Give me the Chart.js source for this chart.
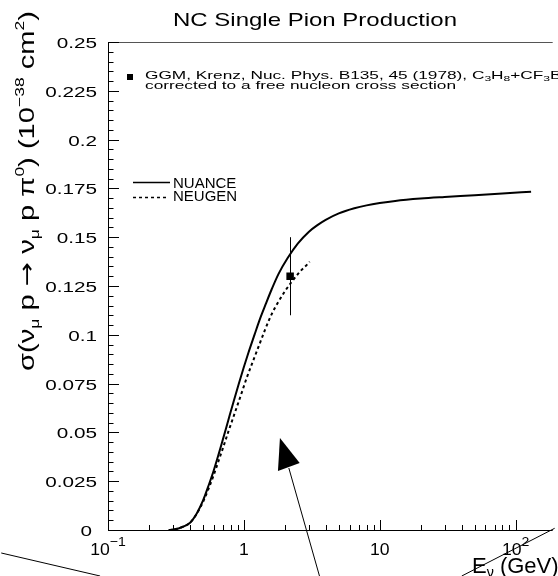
<!DOCTYPE html>
<html><head><meta charset="utf-8">
<script src="https://cdn.jsdelivr.net/npm/chart.js@4.4.1/dist/chart.umd.min.js"></script>
<style>html,body{margin:0;padding:0;background:#fff;overflow:hidden}#wrap{width:558px;height:576px;position:relative;background:#fff}</style>
</head><body><div id="wrap"><canvas id="c" width="558" height="576"></canvas></div>
<script>
// ---- data ----
const nuanceE = [0.28,0.30,0.33,0.36,0.40,0.45,0.50,0.55,0.60,0.65,0.70,0.77,0.85,0.92,1.0,1.08,1.2,1.3,1.45,1.6,1.8,2.1,2.5,3.0,3.5,4.0,5.0,6.5,8,10,13,20,30,50,80,130];
const nuanceSigma = [0,0.0002,0.0008,0.0018,0.0036,0.0085,0.0150,0.0228,0.0305,0.0385,0.0463,0.0565,0.0670,0.0752,0.0835,0.0908,0.1002,0.1073,0.1158,0.1232,0.1312,0.1393,0.1468,0.1527,0.1563,0.1589,0.1622,0.1648,0.1663,0.1675,0.1686,0.1698,0.1706,0.1715,0.1724,0.1733];
const neugenE = [0.28,0.30,0.33,0.36,0.40,0.45,0.50,0.55,0.60,0.65,0.70,0.77,0.85,0.95,1.05,1.19,1.30,1.43,1.60,1.78,2.0,2.23,2.6,2.94,3.05];
const neugenSigma = [0,0.0002,0.0008,0.0018,0.0036,0.0083,0.0143,0.0212,0.0282,0.0352,0.0418,0.0505,0.0592,0.0690,0.0780,0.0880,0.0950,0.1025,0.1105,0.1165,0.1222,0.1268,0.1325,0.1362,0.1374];
const ggmE = [2.19];
const ggmSigma = [0.130];
const ggmErr = [0.020];
const yTickValues = [0,0.025,0.05,0.075,0.1,0.125,0.15,0.175,0.2,0.225,0.25];
const yTickLabels = ['0','0.025','0.05','0.075','0.1','0.125','0.15','0.175','0.2','0.225','0.25'];
const xTickValues = [0.1,1,10,100];
const xTickBase = ['10','1','10','10'];
const xTickExp = ['\u22121','','','2'];
// annotation strokes (in data units E, sigma)
const annoLine1 = [[0.01638,-0.01178],[0.08746,-0.02357]];
const annoArrowLine = [[3.601,-0.02357],[2.142,0.03176]];
const annoArrowHead = [[1.843,0.04713],[1.782,0.03023],[2.576,0.03432]];
const annoLine2 = [[40.14,-0.02357],[193.8,0.00087]];

const TXT = '"Liberation Sans", Arial, Helvetica, sans-serif';
function segFont(s,size){ return (size*(s.k||1))+'px '+(s.f||TXT); }
function richWidth(ctx, segs, size){ let w=0; for(const s of segs){ ctx.font = segFont(s,size); w += ctx.measureText(s.t).width; } return w; }
function drawRich(ctx, segs, x, y, o){
  const size=o.size; ctx.save(); ctx.translate(x,y); if(o.rot) ctx.rotate(o.rot);
  const nat = richWidth(ctx, segs, size);
  const sx = o.width ? o.width/nat : (o.stretch||1);
  ctx.scale(sx,1);
  let cx = o.align==='right' ? -nat : (o.align==='center' ? -nat/2 : 0);
  ctx.fillStyle = '#000'; ctx.textBaseline='alphabetic'; ctx.textAlign='left';
  for(const s of segs){ ctx.font=segFont(s,size); ctx.fillText(s.t, cx, (s.dy||0)*size); cx += ctx.measureText(s.t).width; }
  ctx.restore();
}

const decor = {
  id:'decor',
  beforeDatasetsDraw(chart){
    const {ctx, chartArea:a, scales:{x,y}} = chart;
    ctx.save();
    ctx.lineWidth=1; ctx.strokeStyle='#000';
    ctx.beginPath();
    ctx.moveTo(a.left+0.5, a.top); ctx.lineTo(a.left+0.5, a.bottom+0.5); ctx.lineTo(a.right, a.bottom+0.5);
    ctx.stroke();
    ctx.strokeStyle='#555';
    ctx.beginPath(); ctx.moveTo(a.left, a.top+0.5); ctx.lineTo(a.right, a.top+0.5); ctx.stroke();
    ctx.strokeStyle='#000';
    ctx.beginPath();
    for(let i=0;i<=50;i++){
      const v=i*0.005, py=Math.round(y.getPixelForValue(v))+0.5, major=(i%5===0);
      ctx.moveTo(a.left, py); ctx.lineTo(a.left+(major?11:5.5), py);
    }
    for(let d=-1; d<=2; d++) for(let k=1;k<=9;k++){
      const v=k*Math.pow(10,d); if(v>x.max) break;
      const px=Math.round(x.getPixelForValue(v))+0.5;
      ctx.moveTo(px,a.bottom); ctx.lineTo(px,a.bottom-(k===1?10:5));
    }
    ctx.stroke();
    ctx.restore();
  },
  afterDraw(chart){
    const {ctx, chartArea:a, scales:{x,y}} = chart;
    const P = (p)=>[x.getPixelForValue(p[0]), y.getPixelForValue(p[1])];
    ctx.save();
    // error bar
    ctx.strokeStyle='#000'; ctx.lineWidth=1;
    ctx.beginPath();
    for(let i=0;i<ggmE.length;i++){
      const px=Math.round(x.getPixelForValue(ggmE[i]))+0.5;
      ctx.moveTo(px, y.getPixelForValue(ggmSigma[i]+ggmErr[i]));
      ctx.lineTo(px, y.getPixelForValue(ggmSigma[i]-ggmErr[i]));
    }
    ctx.stroke();
    // annotation strokes
    ctx.beginPath();
    for(const L of [annoLine1, annoArrowLine, annoLine2]){ const p0=P(L[0]), p1=P(L[1]); ctx.moveTo(p0[0],p0[1]); ctx.lineTo(p1[0],p1[1]); }
    ctx.stroke();
    ctx.fillStyle='#000';
    ctx.beginPath();
    annoArrowHead.forEach((q,i)=>{ const p=P(q); if(i===0) ctx.moveTo(p[0],p[1]); else ctx.lineTo(p[0],p[1]); });
    ctx.closePath(); ctx.fill();
    // y tick labels
    yTickValues.forEach((v,i)=>{
      const py=y.getPixelForValue(v);
      drawRich(ctx,[{t:yTickLabels[i]}], v===0?92:97, py+6, {size:15, stretch:1.38, align:'right'});
    });
    // x tick labels
    xTickValues.forEach((v,i)=>{
      const px=x.getPixelForValue(v);
      const segs=[{t:xTickBase[i]}]; if(xTickExp[i]) segs.push({t:xTickExp[i], k:0.8, dy:-0.55});
      drawRich(ctx, segs, px, 555, {size:16, stretch:1.1, align:'center'});
    });
    // title
    drawRich(ctx,[{t:'NC Single Pion Production'}], 315, 26, {size:18.5, width:284, align:'center'});
    // y axis title
    const DV='"DejaVu Sans", sans-serif';
    drawRich(ctx,[{t:'\u03c3(\u03bd'},{t:'\u03bc',k:0.6,dy:0.22},{t:' p '},{t:'\u2192',f:DV},{t:' \u03bd'},{t:'\u03bc',k:0.6,dy:0.22},{t:' p \u03c0'},{t:'0',k:0.6,dy:-0.45},{t:') (10'},{t:'\u221238',k:0.6,dy:-0.45},{t:' cm'},{t:'2',k:0.6,dy:-0.45},{t:')'}],
      34, 371, {size:22, width:360, rot:-Math.PI/2});
    // x axis title
    drawRich(ctx,[{t:'E'},{t:'\u03bd',k:0.65,dy:0.2},{t:' (GeV)'}], 472, 573, {size:22, stretch:1.0});
    // legend
    ctx.lineWidth=1.5;
    ctx.beginPath(); ctx.moveTo(133,182.5); ctx.lineTo(170,182.5); ctx.stroke();
    ctx.setLineDash([3,3]);
    ctx.beginPath(); ctx.moveTo(133,197.5); ctx.lineTo(169,197.5); ctx.stroke();
    ctx.setLineDash([]);
    drawRich(ctx,[{t:'NUANCE'}], 173, 188, {size:15, stretch:1.0});
    drawRich(ctx,[{t:'NEUGEN'}], 173, 201, {size:15, stretch:1.0});
    // data note
    ctx.fillRect(127,74,6,6);
    drawRich(ctx,[{t:'GGM, Krenz, Nuc. Phys. B135, 45 (1978), C'},{t:'3',k:0.7,dy:0.2},{t:'H'},{t:'8',k:0.7,dy:0.2},{t:'+CF'},{t:'3',k:0.7,dy:0.2},{t:'Br'}], 145, 79, {size:11.5, stretch:1.5});
    drawRich(ctx,[{t:'corrected to a free nucleon cross section'}], 145, 89, {size:11.5, width:311});
    ctx.restore();
  }
};

const toXY = (xs, ys) => xs.map((e,i)=>({x:e, y:ys[i]}));
new Chart(document.getElementById('c'), {
  type:'line',
  data:{ datasets:[
    {label:'NUANCE', data:toXY(nuanceE,nuanceSigma), borderColor:'#000', borderWidth:2, pointRadius:0, fill:false, cubicInterpolationMode:'monotone'},
    {label:'NEUGEN', data:toXY(neugenE,neugenSigma), borderColor:'#000', borderWidth:2, borderDash:[3,3], pointRadius:0, fill:false, cubicInterpolationMode:'monotone'},
    {label:'GGM', data:toXY(ggmE,ggmSigma), showLine:false, pointStyle:'rect', pointRadius:5.3, backgroundColor:'#000', borderColor:'#000', borderWidth:0}
  ]},
  options:{
    responsive:false, animation:false, devicePixelRatio:1,
    layout:{padding:{left:108, top:42, right:0, bottom:46}},
    plugins:{legend:{display:false}, tooltip:{enabled:false}, title:{display:false}},
    scales:{
      x:{type:'logarithmic', min:0.1, max:187.5, display:false},
      y:{type:'linear', min:0, max:0.25, display:false}
    }
  },
  plugins:[decor]
});
</script></body></html>
